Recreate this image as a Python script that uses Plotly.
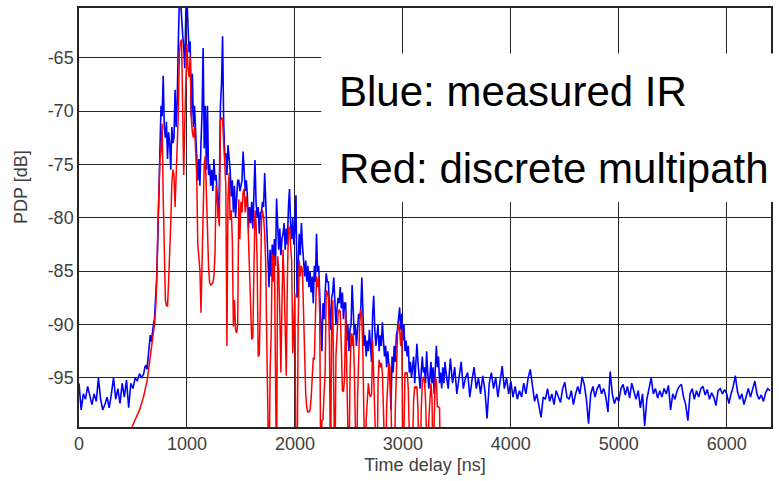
import numpy as np
import plotly.graph_objects as go

# ---- Measured impulse response (blue), dB -------------------------------
# Noise floor before the first arrival, 20 ns spacing starting at 0 ns
BLUE_EARLY_T0, BLUE_EARLY_DT = 0, 20
blue_early = [
    -95.5, -98.0, -96.5, -97.0, -95.8, -96.8, -97.5, -96.5, -97.2, -95.0,
    -97.0, -98.0, -97.5, -96.8, -97.8, -96.5, -95.0, -97.0, -96.0, -97.4,
    -95.5, -96.8, -95.2, -97.8, -95.5, -96.0, -95.0, -95.3, -94.6, -95.0,
]

# Main multipath region, 10 ns spacing starting at 600 ns
BLUE_MAIN_T0, BLUE_MAIN_DT = 600, 10
blue_main = [
    -94.6, -94.0, -93.8, -94.2, -93.2, -92.4, -91.0, -91.6, -90.6, -90.0,  # 600
    -89.4, -87.8, -85.5, -82.0, -76.0, -73.5, -69.5, -70.5, -66.7, -71.5,  # 700
    -72.5, -71.0, -74.5, -72.0, -73.0, -75.5, -71.5, -73.0, -72.5, -68.0,  # 800
    -71.5, -69.0, -63.5, -59.5, -59.5, -62.0, -62.8, -64.0, -66.0, -60.5,  # 900
    -59.5, -62.0, -64.5, -63.5, -70.5, -66.5, -71.5, -69.5, -72.0, -75.0,  # 1000
    -76.5, -74.5, -77.0, -73.0, -70.0, -64.1, -73.5, -69.5, -75.5, -69.5,  # 1100
    -76.0, -75.0, -77.0, -75.5, -77.5, -74.5, -76.5, -76.0, -78.5, -80.0,  # 1200
    -77.0, -69.5, -67.5, -63.0, -71.0, -74.0, -74.0, -76.0, -73.2, -74.5,  # 1300
    -75.5, -78.0, -76.5, -79.5, -77.0, -80.0, -78.0, -76.5, -76.5, -77.5,  # 1400
    -77.0, -76.5, -73.8, -76.0, -77.5, -76.5, -78.0, -81.0, -79.0, -80.5,  # 1500
    -78.5, -81.0, -77.0, -74.6, -78.5, -80.0, -79.0, -81.5, -79.5, -79.5,  # 1600
    -78.5, -79.0, -75.8, -79.0, -81.0, -84.0, -86.5, -83.0, -85.5, -82.5,  # 1700
    -84.0, -82.0, -84.5, -78.2, -81.5, -83.0, -81.0, -83.5, -82.0, -81.5,  # 1800
    -80.5, -83.0, -81.0, -82.5, -79.0, -77.3, -80.5, -82.0, -80.0, -82.5,  # 1900
    -81.0, -77.9, -87.5, -83.0, -81.5, -83.5, -80.5, -82.5, -84.0, -85.5,  # 2000
    -84.0, -86.0, -84.5, -86.5, -85.0, -87.0, -85.5, -88.0, -84.5, -86.0,  # 2100
    -81.5, -85.0, -84.5, -87.5, -90.5, -92.5, -88.0, -89.5, -87.0, -85.2,  # 2200
    -86.0, -86.0, -88.5, -90.5, -87.5, -87.0, -85.6, -88.0, -90.0, -88.5,  # 2300
    -87.5, -88.0, -86.5, -88.5, -87.0, -89.5, -88.0, -88.0, -91.5, -90.0,  # 2400
    -92.5, -90.5, -90.0, -86.3, -89.5, -91.0, -90.0, -92.0, -90.5, -89.0,  # 2500
    -89.5, -88.5, -85.6, -90.0, -92.0, -91.0, -93.0, -91.5, -92.5, -90.5,  # 2600
    -92.0, -93.5, -89.0, -87.3, -90.5, -92.0, -91.0, -90.0, -92.5, -91.0,  # 2700
    -92.0, -89.8, -91.5, -93.0, -92.0, -94.0, -92.5, -93.5, -95.0, -98.0,  # 2800
    -93.0, -94.5, -92.0, -93.5, -91.0, -90.5, -89.5, -88.4, -90.5, -89.0,  # 2900
    -91.5, -90.0, -92.5, -91.5, -93.0, -92.0, -94.5, -93.5, -95.0, -94.0,  # 3000
    -93.0, -95.5, -94.0, -91.8, -93.5, -94.5, -96.0, -94.5, -93.0, -94.5,  # 3100
    -94.0, -95.5, -92.5, -94.5, -96.0, -95.0, -93.5, -95.5, -94.0, -96.5,  # 3200
    -94.0, -92.0, -94.0, -93.0, -95.5, -94.5, -96.0, -94.0, -95.5, -93.5,  # 3300
]

# Noise tail, 20 ns spacing starting at 3400 ns
BLUE_TAIL_T0, BLUE_TAIL_DT = 3400, 20
blue_tail = [
    -94.5, -96.0, -93.2, -95.5, -94.0, -96.5, -95.0, -93.5, -96.0, -95.0,  # 3400
    -94.5, -96.8, -95.2, -94.0, -96.0, -95.0, -96.5, -94.8, -96.2, -98.8,  # 3600
    -95.5, -94.5, -96.0, -95.0, -96.8, -95.2, -93.9, -96.0, -95.0, -96.5,  # 3800
    -95.3, -96.8, -95.8, -97.0, -96.2, -96.8, -95.5, -96.5, -95.0, -94.2,  # 4000
    -96.0, -97.2, -96.5, -97.5, -98.7, -96.8, -97.0, -96.0, -97.2, -96.5,  # 4200
    -97.5, -96.2, -96.8, -97.3, -96.0, -95.4, -96.8, -97.0, -96.2, -97.5,  # 4400
    -96.5, -95.8, -96.5, -94.9, -95.6, -97.0, -99.3, -96.5, -95.8, -96.8,  # 4600
    -96.0, -95.6, -96.5, -96.0, -96.8, -98.2, -94.4, -96.5, -97.4, -96.8,  # 4800
    -97.2, -96.0, -95.6, -96.6, -95.8, -96.9, -95.5, -96.4, -97.0, -96.2,  # 5000
    -97.8, -96.5, -99.5, -97.0, -96.0, -95.0, -96.5, -96.0, -96.9, -96.2,  # 5200
    -96.8, -96.0, -96.5, -95.7, -98.0, -96.5, -97.0, -96.2, -95.8, -95.6,  # 5400
    -96.8, -97.5, -99.0, -96.5, -96.0, -97.0, -96.2, -96.8, -96.0, -95.8,  # 5600
    -96.6, -96.1, -97.0, -96.4, -96.8, -97.6, -96.2, -96.0, -96.5, -96.1,  # 5800
    -96.5, -97.4, -96.5, -95.8, -94.8, -96.3, -97.0, -96.5, -97.5, -96.8,  # 6000
    -96.0, -96.8, -95.9, -95.3, -96.5, -97.0, -96.6, -97.2, -96.4, -96.0,  # 6200
    -96.2,                                                                 # 6400
]

# ---- Discrete multipath model (red), dB, 10 ns spacing from 480 ns ------
RED_T0, RED_DT = 480, 10
red_db = [
    -99.9, -99.6, -99.3, -99.1, -98.9, -98.7, -98.5, -98.3, -98.0, -97.7,  # 480
    -97.4, -97.0, -96.7, -96.2, -95.8, -95.3, -94.6, -93.8, -93.1, -92.6,  # 580
    -91.8, -90.9, -89.9, -88.5, -86.0, -81.0, -77.1, -74.5, -73.7, -71.2,  # 680
    -78.0, -84.0, -87.7, -88.2, -88.3, -86.0, -83.5, -80.5, -76.7, -75.5,  # 780
    -76.0, -79.0, -76.0, -73.0, -70.3, -64.5, -63.5, -63.3, -69.6, -76.0,  # 880
    -71.0, -66.3, -63.7, -66.0, -66.8, -64.9, -70.6, -72.0, -72.5, -71.5,  # 980
    -74.0, -75.9, -82.4, -83.5, -84.9, -88.9, -84.0, -77.0, -75.0, -74.2,  # 1080
    -77.0, -81.0, -84.6, -86.1, -86.3, -86.2, -86.1, -85.5, -83.3, -77.0,  # 1180
    -78.5, -79.7, -80.8, -71.0, -70.6, -70.8, -73.1, -75.5, -77.0, -92.0,  # 1280
    -78.3, -75.8, -80.2, -79.3, -82.0, -90.2, -87.7, -90.5, -90.8, -90.0,  # 1380
    -78.3, -82.0, -78.5, -79.5, -77.6, -77.3, -79.5, -78.0, -79.0, -82.0,  # 1480
    -85.0, -89.0, -91.4, -91.2, -86.0, -79.3, -80.5, -84.0, -93.0, -92.8,  # 1580
    -88.0, -80.2, -79.3, -80.0, -81.5, -84.4, -92.0, -105., -105., -94.5,  # 1680
    -91.0, -83.4, -86.0, -83.5, -105., -105., -83.6, -85.0, -89.0, -94.5,  # 1780
    -88.0, -83.0, -86.0, -89.5, -94.8, -86.0, -80.8, -81.0, -82.5, -84.0,  # 1880
    -92.7, -89.0, -87.1, -105., -105., -90.0, -84.0, -85.5, -84.5, -85.0,  # 1980
    -89.0, -94.3, -96.5, -97.8, -98.2, -98.2, -98.0, -97.0, -94.8, -93.1,  # 2080
    -93.3, -88.0, -85.5, -86.5, -85.5, -89.0, -105., -99.0, -98.9, -96.5,  # 2180
    -94.5, -86.8, -87.0, -87.5, -92.0, -105., -90.0, -87.7, -105., -105.,  # 2280
    -93.0, -91.0, -89.0, -88.6, -88.8, -92.0, -96.2, -96.3, -95.0, -88.6,  # 2380
    -95.0, -105., -105., -95.0, -90.8, -92.0, -90.8, -94.0, -105., -105.,  # 2480
    -97.0, -93.0, -90.0, -88.6, -89.3, -93.0, -105., -105., -99.0, -97.0,  # 2580
    -95.5, -96.5, -96.8, -96.5, -91.5, -95.0, -99.0, -105., -105., -95.5,  # 2680
    -93.3, -94.0, -93.6, -94.5, -98.0, -105., -105., -97.5, -94.5, -93.6,  # 2780
    -94.0, -96.5, -105., -105., -105., -98.0, -93.5, -91.0, -89.9, -90.4,  # 2880
    -92.0, -90.4, -105., -97.0, -94.5, -94.6, -94.5, -96.0, -105., -105.,  # 2980
    -105., -99.0, -97.0, -95.8, -96.0, -95.8, -98.0, -105., -105., -98.0,  # 3080
    -95.5, -94.9, -95.2, -97.0, -105., -105., -99.0, -96.5, -95.5, -97.0,  # 3180
    -105., -99.0, -95.0, -95.2, -97.7, -97.7, -97.8, -105., -105.,         # 3280
]

# Axis ticks and labels
X_TICKS = [0, 1000, 2000, 3000, 4000, 5000, 6000]
Y_TICKS = [-95, -90, -85, -80, -75, -70, -65]
X_RANGE = [0, 6410]
Y_RANGE = [-99.6, -60.35]
LEGEND_LINES = ["Blue: measured IR", "Red: discrete multipath"]


def delay_axis(t0, dt, values):
    return t0 + dt * np.arange(len(values))


blue_t = np.concatenate([
    delay_axis(BLUE_EARLY_T0, BLUE_EARLY_DT, blue_early),
    delay_axis(BLUE_MAIN_T0, BLUE_MAIN_DT, blue_main),
    delay_axis(BLUE_TAIL_T0, BLUE_TAIL_DT, blue_tail),
])
blue_db = np.array(blue_early + blue_main + blue_tail)
red_t = delay_axis(RED_T0, RED_DT, red_db)

FONT = "Liberation Sans, Arial, sans-serif"
GRID = "#262626"
TICK_COLOR = "#404040"

fig = go.Figure()
fig.add_trace(go.Scatter(x=blue_t, y=blue_db, mode="lines",
                         line=dict(color="#0000ff", width=1.6), name="measured IR"))
fig.add_trace(go.Scatter(x=red_t, y=red_db, mode="lines",
                         line=dict(color="#ff0000", width=1.5), name="discrete multipath"))

axis_common = dict(
    showgrid=True, gridcolor=GRID, gridwidth=1.4,
    showline=True, linecolor=GRID, linewidth=1.5, mirror=True,
    zeroline=False, ticks="",
    tickfont=dict(family=FONT, size=18, color=TICK_COLOR),
)

fig.update_layout(
    width=779, height=481,
    margin=dict(l=78.5, r=8, t=7.5, b=53.7),
    paper_bgcolor="white", plot_bgcolor="white",
    showlegend=False,
    font=dict(family=FONT),
    xaxis=dict(range=X_RANGE, tickvals=X_TICKS, ticktext=[str(v) for v in X_TICKS],
               title=dict(text="Time delay [ns]", font=dict(family=FONT, size=18, color=TICK_COLOR),
                          standoff=5),
               **axis_common),
    yaxis=dict(range=Y_RANGE, tickvals=Y_TICKS, ticktext=[str(v) for v in Y_TICKS],
               **axis_common),
)

# y-axis title, set a little above the vertical centre of the plot
fig.add_annotation(text="PDP [dB]", xref="paper", yref="paper", x=-0.083, y=0.572,
                   xanchor="center", yanchor="middle", textangle=-90, showarrow=False,
                   font=dict(family=FONT, size=18, color=TICK_COLOR))

# white panel behind the colour key text
fig.add_shape(type="rect", xref="paper", yref="paper",
              x0=0.350, x1=1.05, y0=0.5367, y1=0.8916,
              fillcolor="white", line=dict(width=0), layer="above")

for text, y in zip(LEGEND_LINES, [0.800, 0.6167]):
    fig.add_annotation(text=text, xref="paper", yref="paper", x=0.373, y=y,
                       xanchor="left", yanchor="middle", showarrow=False,
                       font=dict(family=FONT, size=42, color="black"))

fig.write_html("out.html")
